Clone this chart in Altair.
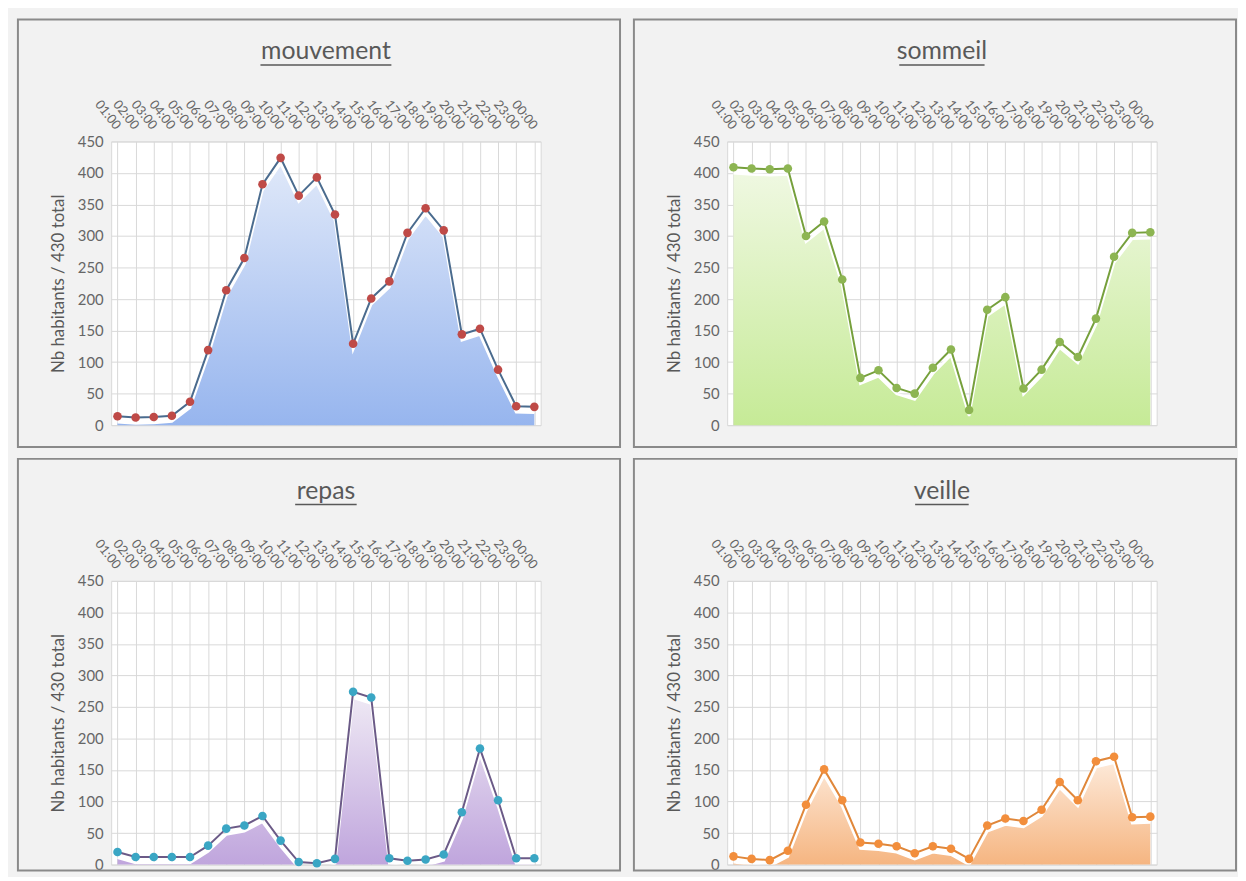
import altair as alt
import pandas as pd

hours = ["01:00", "02:00", "03:00", "04:00", "05:00", "06:00", "07:00", "08:00",
         "09:00", "10:00", "11:00", "12:00", "13:00", "14:00", "15:00", "16:00",
         "17:00", "18:00", "19:00", "20:00", "21:00", "22:00", "23:00", "00:00"]

mouvement = [14, 12, 13, 15, 37, 119, 214, 265, 382, 424, 364, 393,
             334, 129, 201, 228, 305, 344, 309, 144, 153, 88, 30, 29]
sommeil = [409, 407, 406, 407, 300, 323, 231, 75, 87, 59, 50, 91,
           120, 24, 183, 203, 58, 88, 132, 108, 169, 267, 305, 306]
repas = [20, 12, 12, 12, 12, 30, 57, 62, 77, 38, 4, 2,
         9, 274, 265, 10, 6, 8, 16, 83, 184, 102, 10, 10]
veille = [13, 9, 7, 22, 95, 151, 102, 35, 33, 29, 18, 29,
          25, 9, 62, 73, 69, 87, 131, 102, 164, 171, 75, 76]

W, H = 433, 286
TXT = "#595959"
GRID = "#d9d9d9"


def panel(title, values, line_c, point_c, g_top, g_bot, ul_half, bottom_pad):
    df = pd.DataFrame({"heure": hours, "n": values})
    x = alt.X(
        "heure:O", sort=hours,
        scale=alt.Scale(type="point", padding=0.35),
        axis=alt.Axis(orient="top", labelAngle=52, labelAlign="right",
                      labelBaseline="middle", labelOverlap=False, ticks=False,
                      domain=False, grid=True, gridColor=GRID, labelPadding=14,
                      labelFontSize=13, labelColor="#666666", title=None),
    )
    y = alt.Y(
        "n:Q", scale=alt.Scale(domain=[0, 450], nice=False),
        axis=alt.Axis(values=list(range(0, 451, 50)), title="Nb habitants / 430 total",
                      labelFontSize=15, labelColor="#666666", titleFontSize=17,
                      titleFontWeight="normal", titleColor=TXT, domain=False,
                      ticks=False, grid=True, gridColor=GRID, labelPadding=8,
                      titlePadding=10),
    )
    base = alt.Chart(df).encode(x=x, y=y)
    one = alt.Data(values=[{"a": 1}])

    frame = alt.Chart(one).mark_rect(fillOpacity=0, stroke="#8a8a8a", strokeWidth=2).encode(
        x=alt.value(-94), x2=alt.value(W + 80), y=alt.value(-123), y2=alt.value(H + bottom_pad))
    ttl = alt.Chart(one).mark_text(fontSize=25, color=TXT, baseline="alphabetic", align="center").encode(
        x=alt.value(W / 2), y=alt.value(-83), text=alt.value(title))
    ul = alt.Chart(one).mark_rule(color=TXT, strokeWidth=1.5).encode(
        x=alt.value(W / 2 - ul_half), x2=alt.value(W / 2 + ul_half), y=alt.value(-77))

    grad = alt.Gradient(gradient="linear",
                        stops=[alt.GradientStop(color=g_top, offset=0),
                               alt.GradientStop(color=g_bot, offset=1)],
                        x1=1, x2=1, y1=0, y2=1)
    area = base.mark_area(color=grad, yOffset=6, clip=True)
    white = base.mark_line(color="white", strokeWidth=2.5, yOffset=6, clip=True)
    line = base.mark_line(color=line_c, strokeWidth=2)
    pts = base.mark_point(filled=True, color=point_c, size=75, opacity=1)

    return alt.layer(frame, ttl, ul, area, white, line, pts).properties(width=W, height=H)


tl = panel("mouvement", mouvement, "#4a6b8e", "#bf4a47", "#dfe8f9", "#95b4ee", 66, 22)
tr = panel("sommeil", sommeil, "#76a03c", "#8db552", "#eff8e1", "#c5ea95", 43, 22)
bl = panel("repas", repas, "#6b5a87", "#3aa6c4", "#eee8f4", "#bea3dc", 31, 6)
br = panel("veille", veille, "#e0873a", "#f28e3c", "#fde9d8", "#f5b27c", 27, 6)

chart = alt.vconcat(
    alt.hconcat(tl, tr, spacing=10),
    alt.hconcat(bl, br, spacing=10),
    spacing=8,
).properties(
    padding={"left": 8, "top": 6, "right": 0, "bottom": 0}
).configure(
    background="#f2f2f2", font="Lato"
).configure_view(
    fill="white", stroke=GRID
)

chart.save("out.html", embed_options={"renderer": "svg", "actions": False})
